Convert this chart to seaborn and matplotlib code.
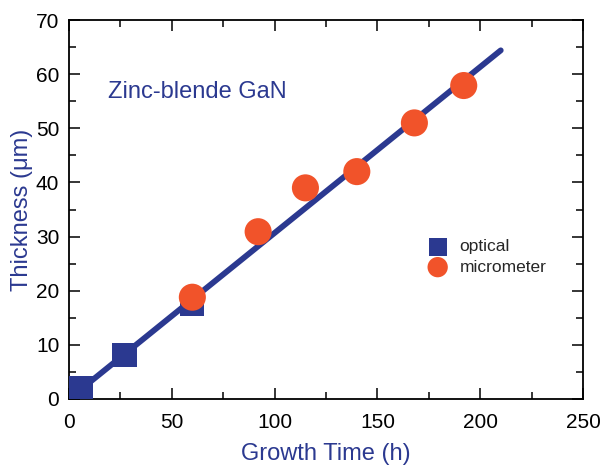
import matplotlib
matplotlib.use("Agg")
import matplotlib.pyplot as plt
from matplotlib.ticker import MultipleLocator
import seaborn as sns
import pandas as pd

# Thickness measurements of zinc-blende GaN vs. growth time
optical_time = [4, 6, 27, 60]
optical_thickness = [1.6, 2.0, 8.2, 17.6]

micrometer_time = [60, 92, 115, 140, 168, 192]
micrometer_thickness = [18.8, 30.9, 39.0, 42.0, 51.0, 57.9]

# Linear growth-rate fit
fit_time = [0, 210]
fit_thickness = [0.0, 64.4]

BLUE = "#2B3990"
ORANGE = "#F1532A"

sns.set_theme(style="ticks")
plt.rcParams["font.family"] = ["Liberation Sans", "DejaVu Sans"]

fig = plt.figure(figsize=(6.03, 4.66), dpi=100)
ax = fig.add_axes([0.1144, 0.1438, 0.8524, 0.8132])

fit_df = pd.DataFrame({"t": fit_time, "d": fit_thickness})
opt_df = pd.DataFrame({"t": optical_time, "d": optical_thickness})
mic_df = pd.DataFrame({"t": micrometer_time, "d": micrometer_thickness})

sns.lineplot(data=fit_df, x="t", y="d", ax=ax, color=BLUE, linewidth=4.2,
             zorder=2, legend=False)
sns.scatterplot(data=opt_df, x="t", y="d", ax=ax, marker="s", s=300,
                color=BLUE, edgecolor="none", zorder=3, label="optical")
sns.scatterplot(data=mic_df, x="t", y="d", ax=ax, marker="o", s=380,
                color=ORANGE, edgecolor="none", zorder=4, label="micrometer")

ax.set_xlim(0, 250)
ax.set_ylim(0, 70)
ax.xaxis.set_major_locator(MultipleLocator(50))
ax.xaxis.set_minor_locator(MultipleLocator(25))
ax.yaxis.set_major_locator(MultipleLocator(10))
ax.yaxis.set_minor_locator(MultipleLocator(5))

for s in ax.spines.values():
    s.set_linewidth(1.3)
    s.set_color("black")

ax.tick_params(which="both", direction="in", top=True, right=True,
               color="black", width=1.1)
ax.tick_params(which="major", length=8, labelsize=15, labelcolor="black")
ax.tick_params(which="minor", length=5)
ax.tick_params(axis="x", which="major", pad=10)
ax.tick_params(axis="y", which="major", pad=7)

ax.set_xlabel("Growth Time (h)", fontsize=17, color=BLUE, labelpad=8)
ax.set_ylabel("Thickness (\u03bcm)", fontsize=17, color=BLUE, labelpad=2)

ax.text(0.075, 0.81, "Zinc-blende GaN", transform=ax.transAxes,
        fontsize=17, color=BLUE, ha="left", va="center")

leg = ax.legend(loc="upper left", bbox_to_anchor=(0.67, 0.44), frameon=False,
                fontsize=12.5, handletextpad=0.25, labelspacing=0.3,
                markerscale=0.75, borderaxespad=0)

fig.savefig("out.png", dpi=100)
